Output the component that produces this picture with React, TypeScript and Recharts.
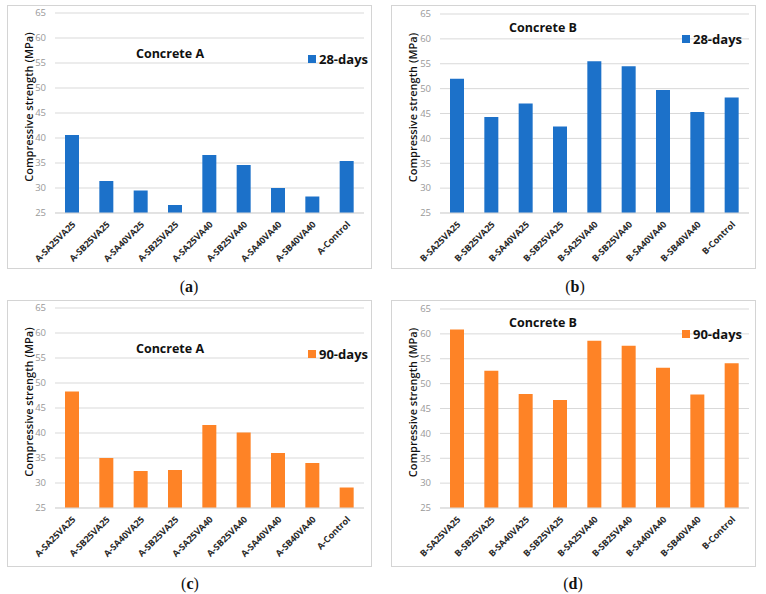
import { BarChart, Bar, XAxis, YAxis, CartesianGrid, Legend } from 'recharts';

const categoriesA = ['A-SA25VA25', 'A-SB25VA25', 'A-SA40VA25', 'A-SB25VA25', 'A-SA25VA40', 'A-SB25VA40', 'A-SA40VA40', 'A-SB40VA40', 'A-Control'];
const categoriesB = ['B-SA25VA25', 'B-SB25VA25', 'B-SA40VA25', 'B-SB25VA25', 'B-SA25VA40', 'B-SB25VA40', 'B-SA40VA40', 'B-SB40VA40', 'B-Control'];

const strengthA28 = [40.6, 31.4, 29.5, 26.6, 36.6, 34.6, 30.0, 28.3, 35.4];
const strengthB28 = [52.0, 44.3, 47.0, 42.4, 55.5, 54.5, 49.7, 45.3, 48.2];
const strengthA90 = [48.3, 35.0, 32.4, 32.6, 41.6, 40.1, 36.0, 34.0, 29.1];
const strengthB90 = [60.9, 52.6, 47.9, 46.7, 58.6, 57.6, 53.2, 47.8, 54.1];

const yTicks = [25, 30, 35, 40, 45, 50, 55, 60, 65];

const BLUE = '#1c71c9';
const ORANGE = '#fe8326';
const FONT = '"Open Sans", "Noto Sans", sans-serif';
const GRID = '#d9d9d9';

interface PanelProps {
  categories: string[];
  values: number[];
  series: string;
  color: string;
  title: string;
  caption: string;
  left: number;
  top: number;
  width: number;
  height: number;
  plot: { left: number; top: number; right: number; bottom: number };
  titleAt: { x: number; y: number };
  legendAt: { x: number; y: number };
  captionAt: { x: number; y: number };
}

const DiagonalTick = ({ x, y, payload }: any) => {
  const ax = x + 4;
  const ay = y + 4;
  return (
    <text
      x={ax}
      y={ay}
      textAnchor="end"
      transform={`rotate(-45, ${ax}, ${ay})`}
      fontFamily={FONT}
      fontSize={9}
      fontWeight={700}
      fill="#2a2a2a"
    >
      {payload.value}
    </text>
  );
};

function Panel(p: PanelProps) {
  const data = p.categories.map((name, i) => ({ name, value: p.values[i] }));

  const renderLegend = () => (
    <div style={{ display: 'flex', alignItems: 'center', fontFamily: FONT, fontSize: 13, fontWeight: 700, color: '#111', whiteSpace: 'nowrap' }}>
      <span style={{ width: 8, height: 8, background: p.color, marginRight: 3, display: 'inline-block' }} />
      {p.series}
    </div>
  );

  return (
    <>
      <div
        style={{
          position: 'absolute',
          left: p.left,
          top: p.top,
          width: p.width,
          height: p.height,
          border: '1px solid #d4d4d4',
          boxSizing: 'border-box',
        }}
      />
      <div style={{ position: 'absolute', left: p.left, top: p.top, width: p.width, height: p.height }}>
        <BarChart
          width={p.width}
          height={p.height}
          data={data}
          margin={{ top: p.plot.top, right: p.width - p.plot.right, left: 0, bottom: 0 }}
        >
          <CartesianGrid vertical={false} stroke={GRID} />
          <XAxis
            dataKey="name"
            interval={0}
            height={p.height - p.plot.bottom}
            tickLine={false}
            axisLine={{ stroke: GRID }}
            tick={<DiagonalTick />}
          />
          <YAxis
            domain={[25, 65]}
            ticks={yTicks}
            width={p.plot.left}
            axisLine={false}
            tickLine={false}
            tickMargin={3}
            tick={{ fill: '#999', fontSize: 9.5, fontFamily: FONT }}
            label={{
              content: ({ viewBox }: any) => {
                const cx = 21;
                const cy = viewBox.y + viewBox.height / 2 - 6;
                return (
                  <text
                    x={cx}
                    y={cy}
                    textAnchor="middle"
                    dominantBaseline="central"
                    transform={`rotate(-90, ${cx}, ${cy})`}
                    fontFamily={FONT}
                    fontSize={11}
                    fontWeight={600}
                    fill="#111"
                  >
                    Compressive strength (MPa)
                  </text>
                );
              },
            }}
          />
          <Legend
            layout="horizontal"
            verticalAlign="middle"
            align="center"
            content={renderLegend}
            wrapperStyle={{ left: p.legendAt.x, top: p.legendAt.y - 9, width: 'auto' }}
          />
          <Bar dataKey="value" name={p.series} fill={p.color} barSize={14} isAnimationActive={false} />
        </BarChart>
        <div
          style={{
            position: 'absolute',
            left: p.titleAt.x,
            top: p.titleAt.y,
            transform: 'translate(-50%, -50%)',
            fontFamily: FONT,
            fontSize: 12.5,
            fontWeight: 700,
            color: '#111',
            whiteSpace: 'nowrap',
          }}
        >
          {p.title}
        </div>
      </div>
      <div
        style={{
          position: 'absolute',
          left: p.captionAt.x,
          top: p.captionAt.y,
          transform: 'translate(-50%, -50%)',
          fontFamily: '"Liberation Serif", "DejaVu Serif", serif',
          fontSize: 16,
          color: '#111',
        }}
      >
        (<b>{p.caption}</b>)
      </div>
    </>
  );
}

export default function App() {
  return (
    <div style={{ position: 'absolute', left: 0, top: 0, width: 766, height: 594, background: '#fff', overflow: 'hidden' }}>
      <Panel
        categories={categoriesA}
        values={strengthA28}
        series="28-days"
        color={BLUE}
        title="Concrete A"
        caption="a"
        left={7}
        top={5}
        width={365}
        height={264}
        plot={{ left: 48, top: 8, right: 357, bottom: 208 }}
        titleAt={{ x: 163, y: 48 }}
        legendAt={{ x: 301, y: 54 }}
        captionAt={{ x: 189, y: 287 }}
      />
      <Panel
        categories={categoriesB}
        values={strengthB28}
        series="28-days"
        color={BLUE}
        title="Concrete B"
        caption="b"
        left={391}
        top={5}
        width={365}
        height={264}
        plot={{ left: 49, top: 9, right: 358, bottom: 208 }}
        titleAt={{ x: 152, y: 22 }}
        legendAt={{ x: 291, y: 34 }}
        captionAt={{ x: 575, y: 287 }}
      />
      <Panel
        categories={categoriesA}
        values={strengthA90}
        series="90-days"
        color={ORANGE}
        title="Concrete A"
        caption="c"
        left={7}
        top={300}
        width={365}
        height={267}
        plot={{ left: 48, top: 8, right: 357, bottom: 208 }}
        titleAt={{ x: 163, y: 48 }}
        legendAt={{ x: 301, y: 54 }}
        captionAt={{ x: 190, y: 584 }}
      />
      <Panel
        categories={categoriesB}
        values={strengthB90}
        series="90-days"
        color={ORANGE}
        title="Concrete B"
        caption="d"
        left={391}
        top={300}
        width={365}
        height={267}
        plot={{ left: 49, top: 9, right: 358, bottom: 208 }}
        titleAt={{ x: 152, y: 22 }}
        legendAt={{ x: 291, y: 34 }}
        captionAt={{ x: 573, y: 584 }}
      />
    </div>
  );
}
